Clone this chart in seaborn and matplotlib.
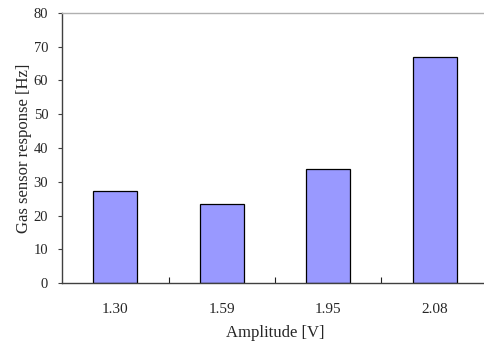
import pandas as pd
import seaborn as sns
import matplotlib.pyplot as plt
from matplotlib.ticker import FixedLocator

# Datos
amplitudes = ["1.30", "1.59", "1.95", "2.08"]
respuesta = [27.3, 23.4, 33.8, 67.1]

df = pd.DataFrame({"amplitud": amplitudes, "respuesta": respuesta})

sns.set_style("white")
plt.rcParams["font.family"] = ["Liberation Serif", "DejaVu Serif"]

fig = plt.figure(figsize=(4.85, 3.41), dpi=100)
ax = fig.add_axes([0.128, 0.170, 0.878, 0.792])

sns.barplot(data=df, x="amplitud", y="respuesta", color="#9999FF",
            saturation=1, edgecolor="black", linewidth=0.9, width=0.41, ax=ax)

ax.set_ylim(0, 80)
ax.set_xlim(-0.5, 3.5)
ax.set_yticks(range(0, 81, 10))
ax.set_xlabel("Amplitude [V]", fontsize=12, labelpad=6)
ax.set_ylabel("Gas sensor response [Hz]", fontsize=12, labelpad=1)

# ejes tipo Excel
ax.spines["right"].set_visible(False)
ax.spines["top"].set_color("#b0b0b0")
ax.spines["top"].set_linewidth(1.0)
ax.spines["left"].set_color("#404040")
ax.spines["bottom"].set_color("#404040")
ax.spines["left"].set_linewidth(1.0)
ax.spines["bottom"].set_linewidth(1.0)

ax.tick_params(axis="y", left=True, length=3, width=0.8, color="#404040",
               labelsize=10.5, pad=7)
ax.tick_params(axis="x", which="major", bottom=False, labelsize=11, pad=11)
ax.xaxis.set_minor_locator(FixedLocator([0.5, 1.5, 2.5]))
ax.tick_params(axis="x", which="minor", bottom=True, direction="in",
               length=4, width=0.8, color="#202020")

fig.savefig("out.png", dpi=100)
